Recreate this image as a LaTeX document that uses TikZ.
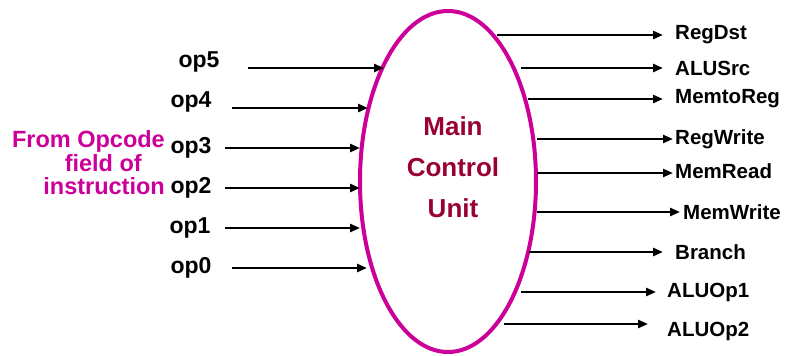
\documentclass[tikz,border=0pt]{standalone}
\usepackage{fontspec}
\setmainfont{Liberation Sans}
\usetikzlibrary{arrows.meta,shapes.geometric}
\definecolor{mag}{RGB}{204,0,153}
\definecolor{dred}{RGB}{153,0,51}
\begin{document}
\begin{tikzpicture}[x=1pt,y=-1pt,
  arr/.style={line width=2.7pt,-{Triangle[length=10pt,width=8pt]}},
  inlab/.style={font=\fontsize{23}{25}\selectfont\bfseries,inner sep=0pt},
  outlab/.style={font=\fontsize{20.5}{23}\selectfont\bfseries,inner sep=0pt,anchor=west}]
\useasboundingbox (0,0) rectangle (785,356);
% ellipse
\node[draw=mag,line width=4pt,ellipse,minimum width=176pt,minimum height=341pt,inner sep=0pt] (mcu) at (448,181.5) {};
\node[text=dred,font=\fontsize{26}{41}\selectfont\bfseries,align=center,inner sep=0pt] (title) at (453,167) {Main\\Control\\Unit};
\node[text=mag,font=\fontsize{23.5}{23.5}\selectfont\bfseries,align=right,inner sep=0pt,anchor=east] (from) at (165,163) {From Opcode\\field of\hspace{23pt}\mbox{}\\instruction};
% inputs
\foreach \n/\ly/\lx/\ay/\xa/\xb in {5/62/199/68/248/384, 4/102/191/108/232/368, 3/148/191/148/225/360, 2/188/191/188/225/360, 1/228/190/228/225/360, 0/268/191/268/232/367}{
  \node[inlab] (op\n) at (\lx,\ly) {op\n};
  \coordinate (s\n) at (\xa,\ay);
  \coordinate (e\n) at (\xb,\ay);
  \draw[arr] (s\n) -- (e\n);
}
% outputs
\foreach \name/\y/\xa/\xb/\lx/\ly in {RegDst/35/497/663/675/35, ALUSrc/68/521/663/675/68, MemtoReg/99/528/663/675/99, RegWrite/139/537/673/675/139, MemRead/173/537/673/675/171, MemWrite/212/537/680/683/212, Branch/252/529/663/675/252, ALUOp1/292/521/656/667/292, ALUOp2/324/504/648/667/331}{
  \node[outlab] (\name) at (\lx,\ly) {\name};
  \coordinate (o\name) at (\xa,\y);
  \coordinate (t\name) at (\xb,\y);
  \draw[arr] (o\name) -- (t\name);
}
\end{tikzpicture}
\end{document}
